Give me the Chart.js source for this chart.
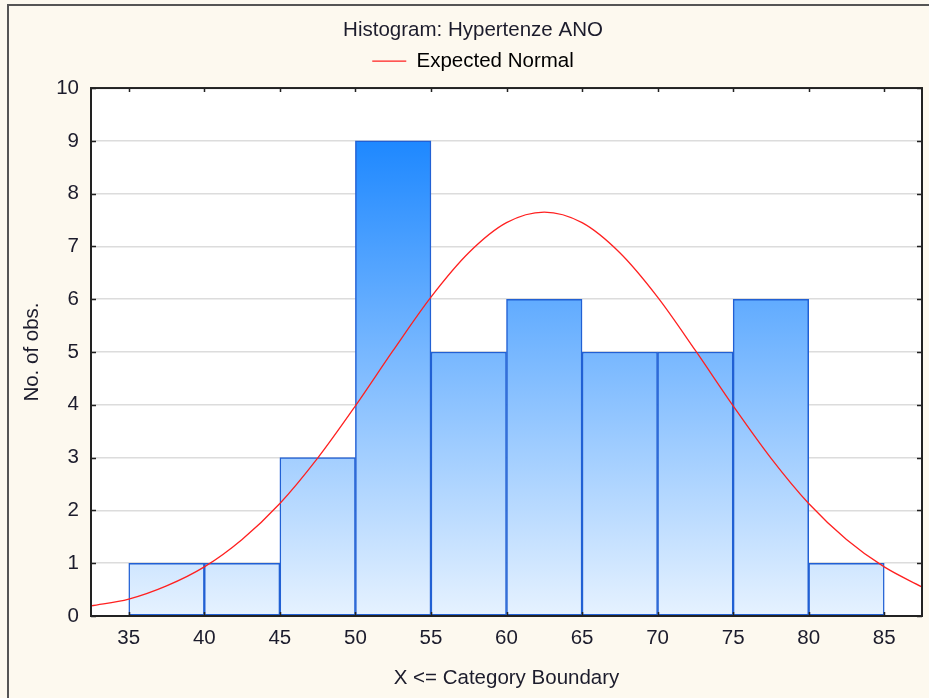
<!DOCTYPE html>
<html>
<head>
<meta charset="utf-8">
<script src="https://cdn.jsdelivr.net/npm/chart.js@4"></script>
<style>
  html, body { margin: 0; padding: 0; background: #fdf9ef; }
  #wrap { position: relative; width: 929px; height: 698px; }
  #frame { position: absolute; left: 7px; top: 4px; width: 940px; height: 720px; border: 2px solid #555; box-sizing: border-box; pointer-events: none; }
</style>
</head>
<body>
<div id="wrap">
  <canvas id="histo" width="929" height="698"></canvas>
  <div id="frame"></div>
</div>
<script>
// bins: upper boundaries (X <= boundary), bin width 5
const binStarts = [35, 40, 45, 50, 55, 60, 65, 70, 75, 80];
const counts = [1, 1, 3, 9, 5, 6, 5, 5, 6, 1];

// expected normal curve
const normalX = [32.5, 35, 37.5, 40, 42.5, 45, 47.5, 50, 52.5, 55, 57.5, 60, 62.5, 65, 67.5, 70, 72.5, 75, 77.5, 80, 82.5, 85, 87.5];
const normalY = [0.19, 0.32, 0.57, 0.93, 1.45, 2.13, 2.99, 3.98, 5.03, 6.04, 6.88, 7.45, 7.65, 7.45, 6.88, 6.04, 5.03, 3.98, 2.99, 2.13, 1.45, 0.93, 0.55];

const xTicks = [35, 40, 45, 50, 55, 60, 65, 70, 75, 80, 85];
const yTicks = [0, 1, 2, 3, 4, 5, 6, 7, 8, 9, 10];

const textColor = "#1c1c2c";
const font = { family: "Arial, 'Liberation Sans', sans-serif", size: 20.5, weight: "normal" };

function barGradient(context) {
  const chart = context.chart;
  const area = chart.chartArea;
  if (!area) return "#5aabff";
  const yScale = chart.scales.y;
  const g = chart.ctx.createLinearGradient(0, yScale.getPixelForValue(9), 0, area.bottom);
  g.addColorStop(0, "#1e88ff");
  g.addColorStop(1, "#e6f2ff");
  return g;
}

// white plot background, frame and inward ticks
const plotFrame = {
  id: "plotFrame",
  beforeDraw(chart) {
    const { ctx, chartArea: a } = chart;
    ctx.save();
    ctx.fillStyle = "#ffffff";
    ctx.fillRect(a.left, a.top, a.right - a.left, a.bottom - a.top);
    ctx.restore();
  },
  afterDraw(chart) {
    const { ctx, chartArea: a, scales } = chart;
    ctx.save();
    ctx.strokeStyle = "#222";
    ctx.lineWidth = 1.5;
    ctx.beginPath();
    xTicks.forEach(v => {
      const px = Math.round(scales.x.getPixelForValue(v)) + 0.5;
      ctx.moveTo(px, a.top); ctx.lineTo(px, a.top + 4);
      ctx.moveTo(px, a.bottom); ctx.lineTo(px, a.bottom - 4);
    });
    yTicks.forEach(v => {
      const py = Math.round(scales.y.getPixelForValue(v)) + 0.5;
      ctx.moveTo(a.left, py); ctx.lineTo(a.left + 5, py);
      ctx.moveTo(a.right, py); ctx.lineTo(a.right - 5, py);
    });
    ctx.stroke();
    ctx.lineWidth = 2;
    ctx.strokeRect(a.left, a.top, a.right - a.left, a.bottom - a.top);
    ctx.restore();
  }
};

const ctx = document.getElementById("histo").getContext("2d");
new Chart(ctx, {
  type: "bar",
  data: {
    datasets: [
      {
        type: "line",
        label: "Expected Normal",
        data: normalX.map((x, i) => ({ x: x, y: normalY[i] })),
        borderColor: "#ff2020",
        borderWidth: 1.3,
        pointRadius: 0,
        cubicInterpolationMode: "monotone",
        fill: false,
        order: 0
      },
      {
        label: "Counts",
        data: binStarts.map((s, i) => ({ x: s + 2.5, y: counts[i] })),
        backgroundColor: barGradient,
        borderColor: "#2160d4",
        borderWidth: 1.5,
        borderSkipped: false,
        barPercentage: 1,
        categoryPercentage: 1,
        order: 1
      }
    ]
  },
  options: {
    responsive: false,
    animation: false,
    devicePixelRatio: 1,
    layout: { padding: { left: 24, right: 7, top: 0, bottom: 0 } },
    plugins: {
      title: {
        display: true,
        text: "Histogram: Hypertenze ANO",
        color: textColor,
        font: font,
        padding: { top: 17.7, bottom: 0 }
      },
      legend: {
        display: true,
        labels: {
          color: textColor,
          font: font,
          boxWidth: 34,
          boxHeight: 0,
          padding: 8.5,
          generateLabels(chart) {
            return [{ text: "Expected Normal", strokeStyle: "#ff2020", fillStyle: "#ff2020", lineWidth: 1.3, datasetIndex: 0 }];
          }
        }
      },
      tooltip: { enabled: false }
    },
    scales: {
      x: {
        type: "linear",
        offset: false,
        min: 32.5,
        max: 87.5,
        afterBuildTicks(scale) { scale.ticks = xTicks.map(v => ({ value: v })); },
        afterFit(scale) { scale.height = 82; },
        grid: { display: false, drawTicks: false },
        border: { display: false },
        ticks: { color: textColor, font: font, padding: 10 },
        title: {
          display: true,
          text: "X <= Category Boundary",
          color: textColor,
          font: font,
          padding: { top: 0, bottom: 7 }
        }
      },
      // spacer between the legend and the plot
      xTop: {
        type: "linear",
        position: "top",
        display: true,
        min: 32.5,
        max: 87.5,
        afterFit(scale) { scale.height = 6.75; },
        grid: { display: false, drawTicks: false },
        border: { display: false },
        ticks: { display: false }
      },
      y: {
        min: 0,
        max: 10,
        afterBuildTicks(scale) { scale.ticks = yTicks.map(v => ({ value: v })); },
        afterFit(scale) { scale.width = 67; },
        grid: { color: "#dcdcdc", lineWidth: 1.5, drawTicks: false },
        border: { display: false },
        ticks: { color: textColor, font: font, padding: 12 },
        title: {
          display: true,
          text: "No. of obs.",
          color: textColor,
          font: font,
          padding: { top: -4.3, bottom: 0 }
        }
      }
    }
  },
  plugins: [plotFrame]
});
</script>
</body>
</html>
